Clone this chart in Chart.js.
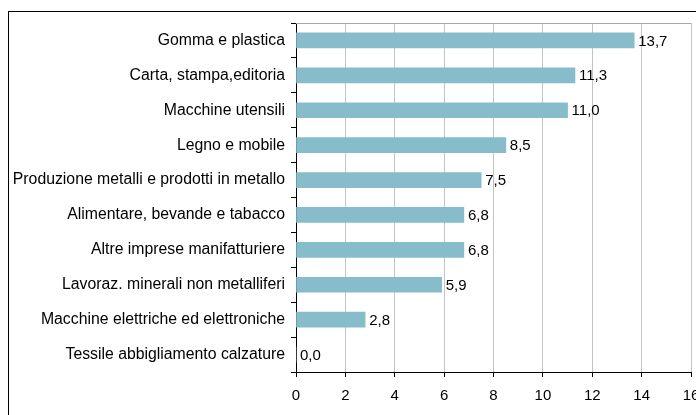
<!DOCTYPE html>
<html>
<head>
  <meta charset="utf-8">
  <script src="https://cdn.jsdelivr.net/npm/chart.js"></script>
  <style>
    body {
      background-color: #fff;
      margin: 0; padding: 0;
      width: 696px; height: 415px;
      overflow: hidden;
      position: relative;
    }
    #frame {
      position: absolute;
      left: 8px; top: 11px;
      width: 800px; height: 500px;
      border: 1px solid #000;
    }
    #sectorChart {
      position: absolute;
      left: 0; top: 0;
    }
  </style>
</head>
<body>
  <div id="frame"></div>
  <canvas id="sectorChart" width="720" height="415"></canvas>

  <script>
    const sectors = [
      'Gomma e plastica',
      'Carta, stampa,editoria',
      'Macchine utensili',
      'Legno e mobile',
      'Produzione metalli e prodotti in metallo',
      'Alimentare, bevande e tabacco',
      'Altre imprese manifatturiere',
      'Lavoraz. minerali non metalliferi',
      'Macchine elettriche ed elettroniche',
      'Tessile abbigliamento calzature'
    ];
    const sectorValues = [13.7, 11.3, 11.0, 8.5, 7.5, 6.8, 6.8, 5.9, 2.8, 0.0];
    const xTicks = [0, 2, 4, 6, 8, 10, 12, 14, 16];

    const fontFamily = '"Liberation Sans", Arial, sans-serif';

    // value labels at the end of each bar, italian decimal comma
    const valueLabels = {
      id: 'valueLabels',
      afterDatasetsDraw(chart) {
        const ctx = chart.ctx;
        const meta = chart.getDatasetMeta(0);
        ctx.save();
        ctx.font = '15px ' + fontFamily;
        ctx.fillStyle = '#000';
        ctx.textAlign = 'left';
        ctx.textBaseline = 'middle';
        meta.data.forEach((bar, i) => {
          const txt = sectorValues[i].toFixed(1).replace('.', ',');
          ctx.fillText(txt, bar.x + 4, bar.y + 1);
        });
        ctx.restore();
      }
    };

    // grey top border of the plot area
    const plotBorder = {
      id: 'plotBorder',
      beforeDatasetsDraw(chart) {
        const a = chart.chartArea;
        const ctx = chart.ctx;
        ctx.save();
        ctx.strokeStyle = '#a6a6a6';
        ctx.lineWidth = 1;
        ctx.beginPath();
        ctx.moveTo(a.left, a.top + 0.5);
        ctx.lineTo(a.right, a.top + 0.5);
        ctx.stroke();
        ctx.restore();
      }
    };

    const ctx = document.getElementById('sectorChart').getContext('2d');
    new Chart(ctx, {
      type: 'bar',
      data: {
        labels: sectors,
        datasets: [{
          data: sectorValues,
          backgroundColor: '#87bdcb',
          borderWidth: 0,
          barThickness: 15
        }]
      },
      options: {
        indexAxis: 'y',
        responsive: false,
        animation: false,
        layout: { padding: { top: 23, right: 29, left: 0, bottom: 0 } },
        plugins: {
          legend: { display: false },
          tooltip: { enabled: false }
        },
        scales: {
          x: {
            min: 0,
            max: 16,
            afterBuildTicks: (scale) => {
              scale.ticks = xTicks.map(v => ({ value: v }));
            },
            afterFit: (scale) => { scale.height = 43; },
            grid: {
              color: '#c4c4c4',
              tickColor: '#000',
              tickLength: 5
            },
            border: { color: '#000' },
            ticks: {
              color: '#000',
              padding: 10,
              font: { family: fontFamily, size: 15 }
            }
          },
          y: {
            afterFit: (scale) => { scale.width = 296; },
            grid: {
              offset: true,
              drawOnChartArea: false,
              tickColor: '#000',
              tickLength: 5
            },
            border: { color: '#000' },
            ticks: {
              color: '#000',
              padding: 6,
              font: { family: fontFamily, size: 15.8 }
            }
          }
        }
      },
      plugins: [valueLabels, plotBorder]
    });
  </script>
</body>
</html>
